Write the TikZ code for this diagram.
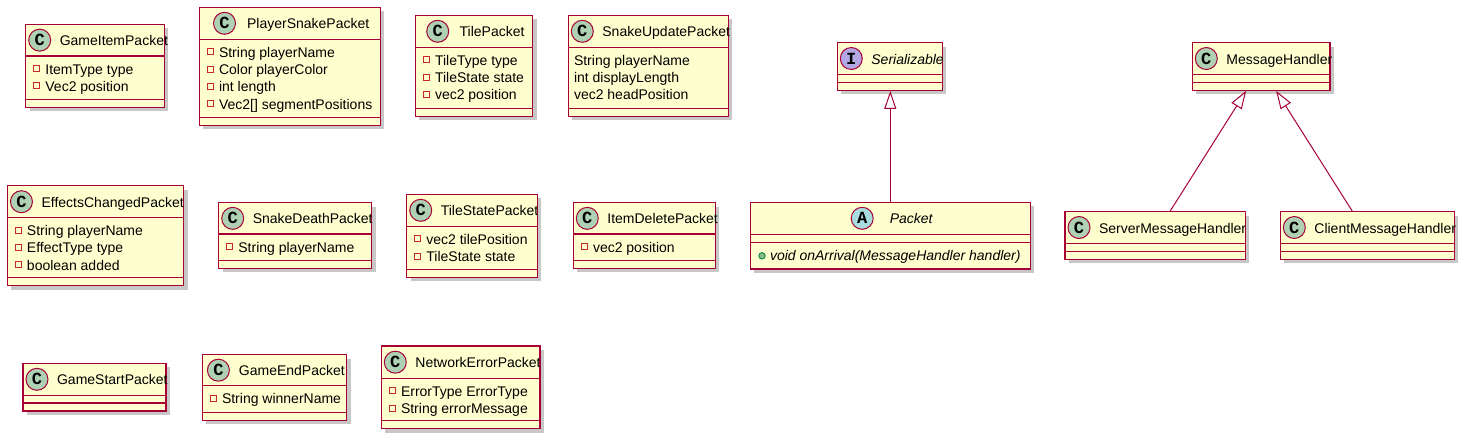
\documentclass[tikz,border=0pt]{standalone}
\usepackage{fontspec}
\setmainfont{Liberation Sans}
\newfontfamily\iconfont{Liberation Mono}
\usetikzlibrary{fit,shadows,arrows.meta}
\definecolor{umlborder}{HTML}{A80036}
\definecolor{umlfill}{HTML}{FEFECE}
\definecolor{ccls}{HTML}{ADD1B2}
\definecolor{cabs}{HTML}{A9DCDF}
\definecolor{cint}{HTML}{B4A7E5}
\definecolor{privc}{HTML}{C82930}
\definecolor{pubf}{HTML}{84BE84}
\definecolor{pubd}{HTML}{038048}
\newcommand\fsz{\fontsize{14}{17}\selectfont}
\tikzset{
  classbox/.style={draw=umlborder, fill=umlfill, line width=1.1pt, inner sep=0pt,
    drop shadow={shadow xshift=4pt, shadow yshift=-4pt, fill=black, opacity=0.22}},
  sepline/.style={draw=umlborder, line width=1.1pt},
  iconcirc/.style={circle, draw=umlborder, line width=1pt, minimum size=22pt, inner sep=0pt,
    font=\iconfont\bfseries\fontsize{17}{17}\selectfont},
  titletext/.style={inner sep=0pt, anchor=base west},
  fieldtext/.style={inner sep=0pt, anchor=base west, font=\fsz},
  privsq/.style={rectangle, draw=privc, line width=1pt, minimum size=6pt, inner sep=0pt},
  pubdot/.style={circle, draw=pubd, fill=pubf, line width=0.8pt, minimum size=6.5pt, inner sep=0pt},
  inherit/.style={draw=umlborder, line width=1pt, -{Triangle[open, length=18pt, width=12pt]}},
  measure/.style={inner sep=0pt, outer sep=0pt},
}
% #1 name #2 left #3 top #4 right #5 bottom #6 sep1 #7 sep2 #8 header #9 body
\newcommand\umlcls[9]{%
  \node[classbox, fit={(#2,#3) (#4,#5)}] (#1) {};
  \draw[sepline] (#2,#6) -- (#4,#6);
  \draw[sepline] (#2,#7) -- (#4,#7);
  \def\clsL{#2}\def\clsR{#4}\def\clsT{#3}\def\clsSa{#6}\def\clsSb{#7}%
  #8#9}
% #1 letter #2 colour #3 font #4 title
\newcommand\umlhdr[4]{%
  \node[measure] at (\clsL,\clsT) {\setbox0=\hbox{#3 #4}\xdef\nwglob{\the\wd0}};
  \pgfmathsetmacro\nw{\nwglob}%
  \pgfmathsetmacro\extra{max(0,\clsR-\clsL-30-\nw)}%
  \pgfmathsetmacro\htwo{min(7.5,0.1*\extra)}%
  \pgfmathsetmacro\hone{(\extra-\htwo)/2}%
  \pgfmathsetmacro\hy{(\clsT+\clsSa)/2}%
  \node[iconcirc, fill=#2] at (\clsL+\hone+14,\hy) {#1};
  \node[titletext] at (\clsL+30+\hone+\htwo,\hy+5.5) {#3 #4};}
\newcommand\umlfld[2]{%
  \pgfmathsetmacro\fy{\clsSa+18+17.25*#1}%
  \node[privsq] at (\clsL+11,\fy-5.5) {};
  \node[fieldtext] at (\clsL+19.5,\fy) {#2};}
\newcommand\umlpfld[2]{%
  \pgfmathsetmacro\fy{\clsSa+18+17.25*#1}%
  \node[fieldtext] at (\clsL+5.5,\fy) {#2};}
\newcommand\umlmth[2]{%
  \pgfmathsetmacro\fy{\clsSb+18+17.25*#1}%
  \node[pubdot] at (\clsL+11.7,\fy-4.5) {};
  \node[fieldtext, font=\fsz\itshape] at (\clsL+19.5,\fy) {#2};}
\begin{document}
\begin{tikzpicture}[x=1pt,y=-1pt]
\fill[white] (0,0) rectangle (1467,442);
\useasboundingbox (0,0) rectangle (1467,442);

\umlcls{gip}{25.7}{24.3}{164.3}{107.3}{56}{99.3}
  {\umlhdr{C}{ccls}{\fsz}{GameItemPacket}}
  {\umlfld{0}{ItemType type}\umlfld{1}{Vec2 position}}
\umlcls{psp}{199.3}{7.3}{380.3}{125.3}{39.3}{117.3}
  {\umlhdr{C}{ccls}{\fsz}{PlayerSnakePacket}}
  {\umlfld{0}{String playerName}\umlfld{1}{Color playerColor}\umlfld{2}{int length}\umlfld{3}{Vec2[] segmentPositions}}
\umlcls{tp}{415.3}{15.3}{532.7}{116.3}{47.3}{108.3}
  {\umlhdr{C}{ccls}{\fsz}{TilePacket}}
  {\umlfld{0}{TileType type}\umlfld{1}{TileState state}\umlfld{2}{vec2 position}}
\umlcls{sup}{568.3}{15.3}{728.3}{116.3}{47.3}{108.3}
  {\umlhdr{C}{ccls}{\fsz}{SnakeUpdatePacket}}
  {\umlpfld{0}{String playerName}\umlpfld{1}{int displayLength}\umlpfld{2}{vec2 headPosition}}
\umlcls{ser}{837.3}{42.7}{942.3}{90.3}{74.3}{82.3}
  {\umlhdr{I}{cint}{\fsz\itshape}{Serializable}}
  {}
\umlcls{mh}{1192.3}{42.7}{1330}{90.3}{74.3}{82.3}
  {\umlhdr{C}{ccls}{\fsz}{MessageHandler}}
  {}
\umlcls{ecp}{7.3}{185.7}{183.7}{285.7}{217.7}{277.7}
  {\umlhdr{C}{ccls}{\fsz}{EffectsChangedPacket}}
  {\umlfld{0}{String playerName}\umlfld{1}{EffectType type}\umlfld{2}{boolean added}}
\umlcls{sdp}{218.7}{202.7}{371.7}{268.3}{234}{260.3}
  {\umlhdr{C}{ccls}{\fsz}{SnakeDeathPacket}}
  {\umlfld{0}{String playerName}}
\umlcls{tsp}{406.7}{194.3}{537.3}{277.3}{226.3}{269.3}
  {\umlhdr{C}{ccls}{\fsz}{TileStatePacket}}
  {\umlfld{0}{vec2 tilePosition}\umlfld{1}{TileState state}}
\umlcls{idp}{573.3}{202.7}{715.3}{268.3}{234}{260.3}
  {\umlhdr{C}{ccls}{\fsz}{ItemDeletePacket}}
  {\umlfld{0}{vec2 position}}
\umlcls{pkt}{750.3}{202.3}{1030.3}{269}{234.3}{242.3}
  {\umlhdr{A}{cabs}{\fsz\itshape}{Packet}}
  {\umlmth{0}{void onArrival(MessageHandler handler)}}
\umlcls{smh}{1065}{211.7}{1245.3}{259.3}{243.3}{251.3}
  {\umlhdr{C}{ccls}{\fsz}{ServerMessageHandler}}
  {}
\umlcls{cmh}{1280.3}{211.7}{1454.3}{259.3}{243.3}{251.3}
  {\umlhdr{C}{ccls}{\fsz}{ClientMessageHandler}}
  {}
\umlcls{gsp}{23}{363.3}{166}{411}{395.3}{403}
  {\umlhdr{C}{ccls}{\fsz}{GameStartPacket}}
  {}
\umlcls{gep}{202.3}{354.7}{346.7}{420.3}{385.7}{412.3}
  {\umlhdr{C}{ccls}{\fsz}{GameEndPacket}}
  {\umlfld{0}{String winnerName}}
\umlcls{nep}{381.3}{346}{540}{428.7}{378.3}{420.7}
  {\umlhdr{C}{ccls}{\fsz}{NetworkErrorPacket}}
  {\umlfld{0}{ErrorType ErrorType}\umlfld{1}{String errorMessage}}

\draw[inherit] (pkt.north) -- (pkt.north |- ser.south);
\draw[inherit] ([xshift=15pt]smh.north) -- ([xshift=-15pt]mh.south);
\draw[inherit] ([xshift=-15pt]cmh.north) -- ([xshift=15pt]mh.south);
\end{tikzpicture}
\end{document}
